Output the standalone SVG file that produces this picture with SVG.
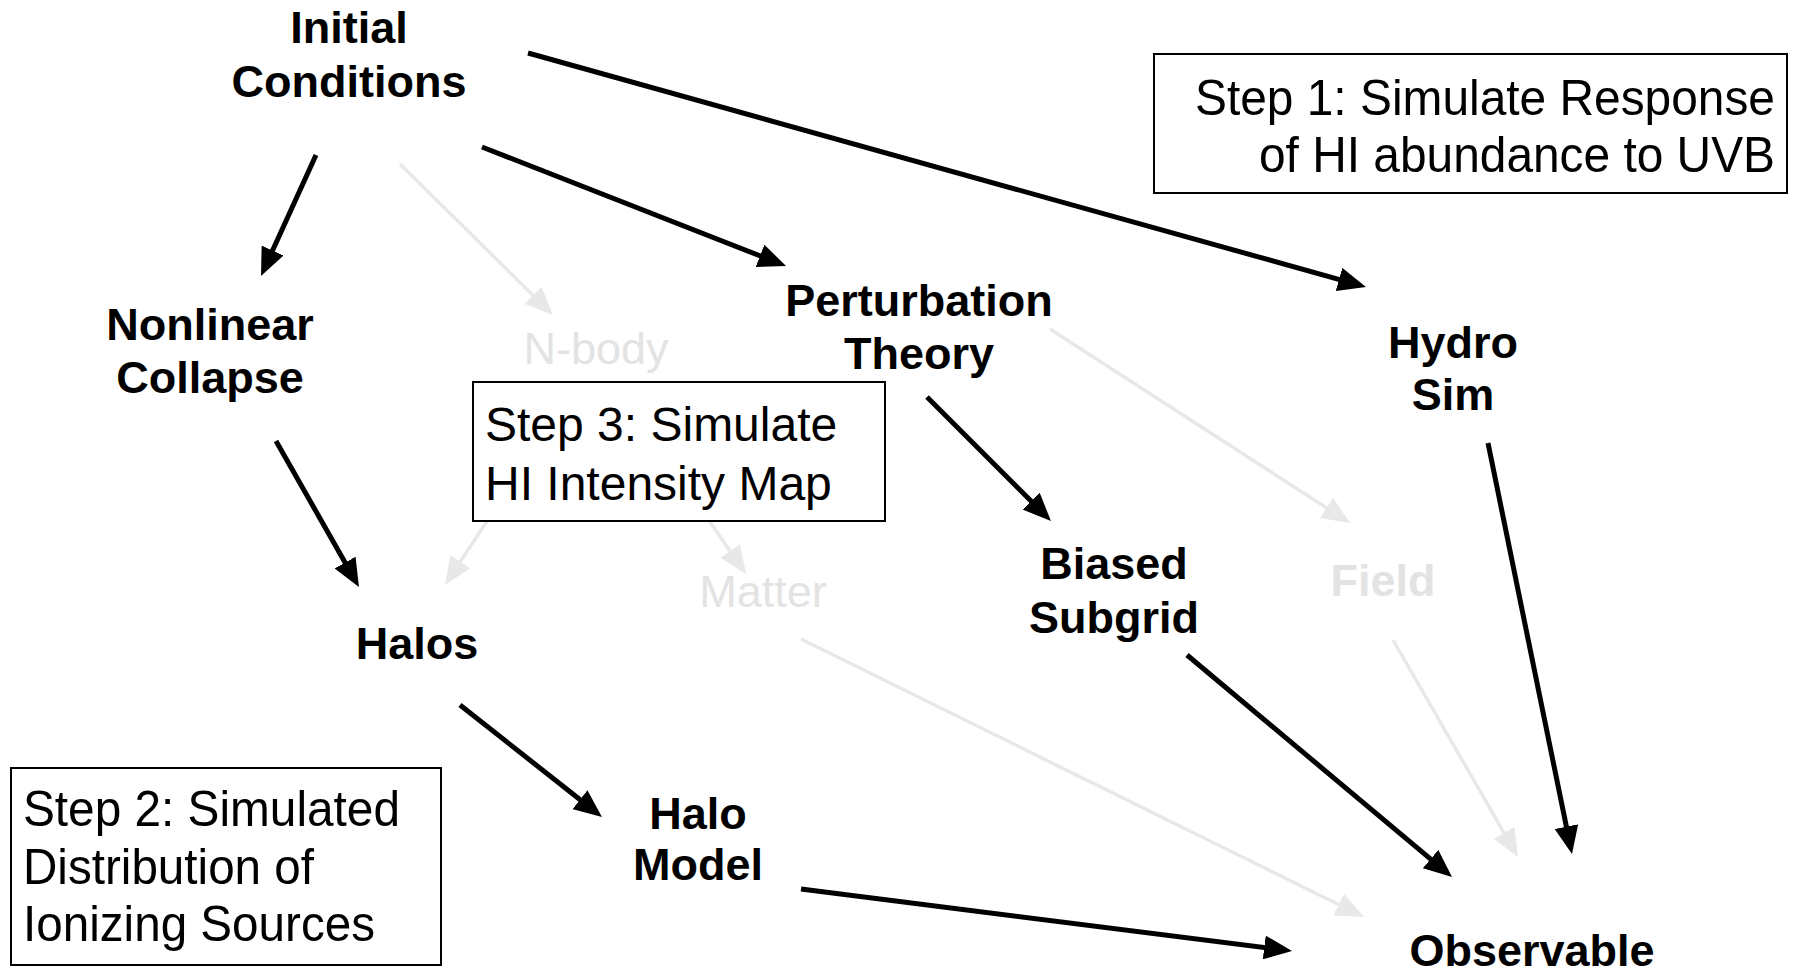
<svg xmlns="http://www.w3.org/2000/svg" width="1797" height="969" viewBox="0 0 1797 969">
<style>
.node{font-family:"Liberation Sans",Arial,sans-serif;font-weight:bold;font-size:45px;fill:#000;text-anchor:middle}
.faint{fill:#e3e3e3}
.reg{font-weight:normal}
.step{font-family:"Liberation Sans",Arial,sans-serif;font-size:50px;fill:#000}
.step3{font-family:"Liberation Sans",Arial,sans-serif;font-size:48px;fill:#000}
.box{fill:#fff;stroke:#000;stroke-width:2}
.ar{stroke:#000;stroke-width:5;fill:none;marker-end:url(#hb)}
.ag{stroke:#e8e8e8;stroke-width:3.5;fill:none;marker-end:url(#hg)}
</style>
<defs>
<marker id="hb" viewBox="0 0 28 24" refX="20" refY="12" markerWidth="28" markerHeight="24" markerUnits="userSpaceOnUse" orient="auto"><path d="M0,0 L28,12 L0,24 z" fill="#000"/></marker>
<marker id="hg" viewBox="0 0 28 24" refX="20" refY="12" markerWidth="28" markerHeight="24" markerUnits="userSpaceOnUse" orient="auto"><path d="M0,0 L28,12 L0,24 z" fill="#e8e8e8"/></marker>
</defs>
<rect width="1797" height="969" fill="#fff"/>
<g id="connectors">
<line class="ag" x1="400" y1="164" x2="547.3" y2="309.4"/>
<line class="ag" x1="577" y1="385" x2="449.3" y2="578.3"/>
<line class="ag" x1="615" y1="385" x2="741.5" y2="567.4"/>
<line class="ag" x1="1050" y1="329" x2="1343.3" y2="518.7"/>
<line class="ag" x1="1393" y1="640" x2="1514" y2="850.1"/>
<line class="ag" x1="801" y1="639" x2="1356.8" y2="913.5"/>
<line class="ar" x1="528" y1="53" x2="1358.3" y2="284.8"/>
<line class="ar" x1="482" y1="147" x2="778.6" y2="263.1"/>
<line class="ar" x1="316" y1="155" x2="264.3" y2="268.7"/>
<line class="ar" x1="276" y1="441" x2="355" y2="580"/>
<line class="ar" x1="927" y1="397" x2="1045.3" y2="515.3"/>
<line class="ar" x1="1488" y1="443" x2="1570.4" y2="846.2"/>
<line class="ar" x1="1187" y1="655" x2="1445.9" y2="871.9"/>
<line class="ar" x1="460" y1="705" x2="595.7" y2="812"/>
<line class="ar" x1="801" y1="889" x2="1284.1" y2="950"/>
</g>
<g id="initial-conditions"><text class="node" x="349" y="43">Initial</text><text class="node" x="349" y="97">Conditions</text></g>
<g id="nonlinear-collapse"><text class="node" x="210" y="340">Nonlinear</text><text class="node" x="210" y="393">Collapse</text></g>
<g id="perturbation-theory"><text class="node" x="919" y="316">Perturbation</text><text class="node" x="919" y="369">Theory</text></g>
<g id="hydro-sim"><text class="node" x="1453" y="358">Hydro</text><text class="node" x="1453" y="410">Sim</text></g>
<g id="n-body"><text class="node faint reg" x="596" y="364">N-body</text></g>
<g id="halos"><text class="node" x="417" y="659">Halos</text></g>
<g id="matter"><text class="node faint reg" x="763" y="607">Matter</text></g>
<g id="biased-subgrid"><text class="node" x="1114" y="579">Biased</text><text class="node" x="1114" y="633">Subgrid</text></g>
<g id="field"><text class="node faint" x="1383" y="596">Field</text></g>
<g id="halo-model"><text class="node" x="698" y="829">Halo</text><text class="node" x="698" y="880">Model</text></g>
<g id="observable"><text class="node" x="1532" y="966">Observable</text></g>
<g id="step1">
<rect class="box" x="1154" y="54" width="633" height="139"/>
<text class="step" x="1775" y="115" text-anchor="end" textLength="580" lengthAdjust="spacingAndGlyphs">Step 1: Simulate Response</text>
<text class="step" x="1775" y="172" text-anchor="end" textLength="516" lengthAdjust="spacingAndGlyphs">of HI abundance to UVB</text>
</g>
<g id="step2">
<rect class="box" x="11" y="768" width="430" height="197"/>
<text class="step" x="23" y="826" textLength="377" lengthAdjust="spacingAndGlyphs">Step 2: Simulated</text>
<text class="step" x="23" y="884" textLength="291" lengthAdjust="spacingAndGlyphs">Distribution of</text>
<text class="step" x="23" y="941" textLength="352" lengthAdjust="spacingAndGlyphs">Ionizing Sources</text>
</g>
<g id="step3">
<rect class="box" x="473" y="382" width="412" height="139"/>
<text class="step3" x="485" y="441">Step 3: Simulate</text>
<text class="step3" x="485" y="500">HI Intensity Map</text>
</g>
</svg>
